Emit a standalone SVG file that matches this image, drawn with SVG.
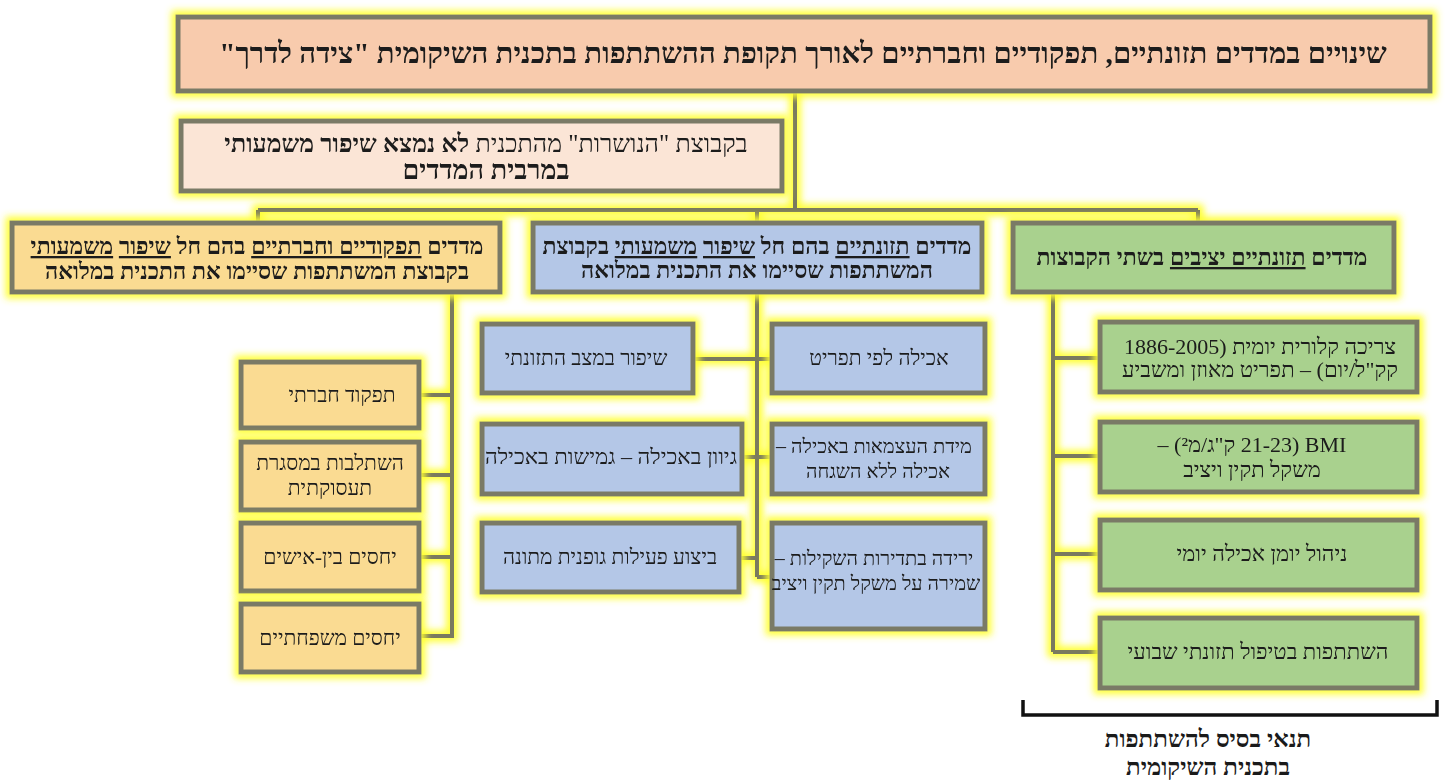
<svg xmlns="http://www.w3.org/2000/svg" width="1445" height="780" viewBox="0 0 1445 780">
<defs>
<filter id="glow" filterUnits="userSpaceOnUse" x="0" y="0" width="1445" height="780">
<feMorphology in="SourceAlpha" operator="dilate" radius="4" result="d"/>
<feGaussianBlur in="d" stdDeviation="3.5" result="b"/>
<feFlood flood-color="#FFFF30" flood-opacity="0.95"/>
<feComposite in2="b" operator="in" result="g"/>
<feMerge><feMergeNode in="g"/><feMergeNode in="SourceGraphic"/></feMerge>
</filter>
<style>
.box{stroke:#7a7a66;stroke-width:5}
.peach{fill:#F8CBAD}.pink{fill:#FBE5D6}.yel{fill:#FADB92}.blue{fill:#B4C7E7}.green{fill:#A9D18E}
.t{font-family:"Liberation Serif","DejaVu Serif",serif;direction:rtl;text-anchor:middle;fill:#1a1a1a;font-size:21px}
.h{font-size:23px;font-weight:bold}
.g{font-size:22px}
.m{font-size:20px}
.b{font-weight:bold}
.u{text-decoration:underline}
.con{stroke:#7a7a5e;stroke-width:4;fill:none}
.node{filter:url(#glow)}
</style>
</defs>
<rect width="1445" height="780" fill="#ffffff"/>
<g id="connectors" filter="url(#glow)">
<path class="con" d="M795,90 V210 M258,210 H1198 M258,210 V222 M757,210 V222 M1198,210 V222"/>
<path class="con" d="M452,292 V638 M420,395 H452 M420,475 H452 M420,557 H452 M420,636 H452"/>
<path class="con" d="M757,292 V577 M693,359 H772 M742,457 H772 M740,558 H757 M757,577 H772"/>
<path class="con" d="M1053,292 V652 M1053,358 H1100 M1053,456 H1100 M1053,554 H1100 M1053,652 H1100"/>
</g>
<g id="title" class="node">
<rect class="box peach" x="178" y="17" width="1252" height="74"/>
<text class="t b" x="803" y="63" style="font-size:29.3px">שינויים במדדים תזונתיים, תפקודיים וחברתיים לאורך תקופת ההשתתפות בתכנית השיקומית "צידה לדרך"</text>
</g>
<g id="dropouts" class="node">
<rect class="box pink" x="181" y="121" width="601" height="70"/>
<text class="t" x="486" y="152" style="font-size:25px">בקבוצת "הנושרות" מהתכנית <tspan class="b">לא נמצא שיפור משמעותי</tspan></text>
<text class="t b" x="486" y="179" style="font-size:27px">במרבית המדדים</text>
</g>
<g id="hdr-func" class="node">
<rect class="box yel" x="12" y="223" width="488" height="69"/>
<text class="t h" x="257" y="254">מדדים <tspan class="u">תפקודיים וחברתיים</tspan>  בהם חל <tspan class="u">שיפור</tspan> <tspan class="u">משמעותי</tspan></text>
<text class="t h" x="257" y="279">בקבוצת המשתתפות שסיימו את התכנית במלואה</text>
</g>
<g id="hdr-nutr" class="node">
<rect class="box blue" x="533" y="223" width="449" height="69"/>
<text class="t h" x="757" y="254">מדדים <tspan class="u">תזונתיים</tspan> בהם חל <tspan class="u">שיפור</tspan> <tspan class="u">משמעותי</tspan> בקבוצת</text>
<text class="t h" x="757" y="278">המשתתפות שסיימו את התכנית במלואה</text>
</g>
<g id="hdr-stable" class="node">
<rect class="box green" x="1013" y="223" width="381" height="69"/>
<text class="t h" x="1202" y="265">מדדים <tspan class="u">תזונתיים יציבים</tspan> בשתי הקבוצות</text>
</g>
<g id="f1" class="node"><rect class="box yel" x="241" y="362" width="178" height="66"/><text class="t" x="342" y="402">תפקוד חברתי</text></g>
<g id="f2" class="node"><rect class="box yel" x="241" y="442" width="178" height="68"/><text class="t" x="330" y="470">השתלבות במסגרת</text><text class="t" x="330" y="495">תעסוקתית</text></g>
<g id="f3" class="node"><rect class="box yel" x="241" y="523" width="178" height="68"/><text class="t" x="330" y="564">יחסים בין-אישים</text></g>
<g id="f4" class="node"><rect class="box yel" x="241" y="604" width="178" height="68"/><text class="t" x="330" y="645">יחסים משפחתיים</text></g>
<g id="n1" class="node"><rect class="box blue" x="482" y="324" width="211" height="69"/><text class="t" x="586" y="365">שיפור במצב התזונתי</text></g>
<g id="n2" class="node"><rect class="box blue" x="482" y="424" width="260" height="70"/><text class="t" x="611" y="464" textLength="252" lengthAdjust="spacingAndGlyphs">גיוון באכילה – גמישות באכילה</text></g>
<g id="n3" class="node"><rect class="box blue" x="482" y="523" width="257" height="69"/><text class="t" x="610" y="564">ביצוע פעילות גופנית מתונה</text></g>
<g id="n4" class="node"><rect class="box blue" x="772" y="324" width="213" height="69"/><text class="t" x="879" y="365">אכילה לפי תפריט</text></g>
<g id="n5" class="node"><rect class="box blue" x="772" y="424" width="213" height="70"/><text class="t m" x="874" y="453">מידת העצמאות באכילה –</text><text class="t m" x="878" y="478">אכילה ללא השגחה</text></g>
<g id="n6" class="node"><rect class="box blue" x="772" y="523" width="213" height="106"/><text class="t m" x="874" y="565">ירידה בתדירות השקילות –</text><text class="t m" x="876" y="590">שמירה על משקל תקין ויציב</text></g>
<g id="s1" class="node"><rect class="box green" x="1100" y="322" width="317" height="70"/><text class="t g" x="1260" y="354">צריכה קלורית יומית (1886-2005</text><text class="t g" x="1260" y="377">קק"ל/יום) – תפריט מאוזן ומשביע</text></g>
<g id="s2" class="node"><rect class="box green" x="1100" y="422" width="317" height="70"/><text class="t g" x="1252" y="452">BMI (21-23 ק"ג/מ²) –</text><text class="t g" x="1252" y="477">משקל תקין ויציב</text></g>
<g id="s3" class="node"><rect class="box green" x="1100" y="520" width="317" height="70"/><text class="t g" x="1262" y="561">ניהול יומן אכילה יומי</text></g>
<g id="s4" class="node"><rect class="box green" x="1100" y="618" width="317" height="70"/><text class="t g" x="1258" y="659">השתתפות בטיפול תזונתי שבועי</text></g>
<g id="bracket">
<path d="M1023,700 V715 H1437 V700" fill="none" stroke="#111" stroke-width="3.5"/>
<text class="t b" x="1208" y="747" style="font-size:24px">תנאי בסיס להשתתפות</text>
<text class="t b" x="1208" y="775" style="font-size:24px">בתכנית השיקומית</text>
</g>
</svg>
